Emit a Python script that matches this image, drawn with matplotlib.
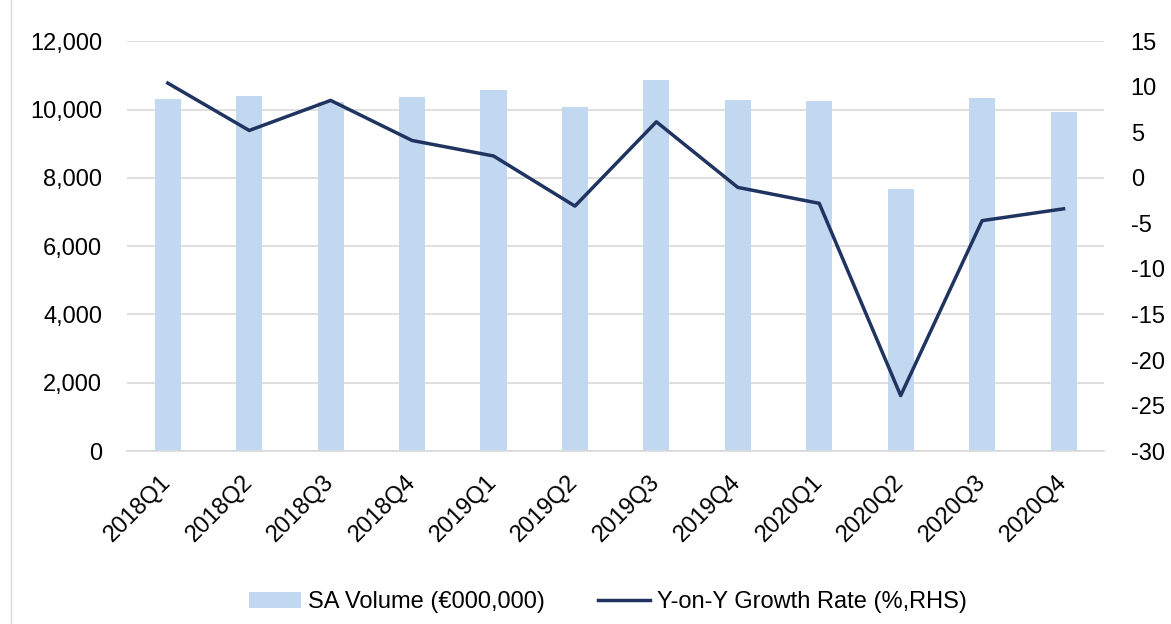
import matplotlib
matplotlib.use('Agg')
import matplotlib.pyplot as plt
import matplotlib.transforms as mtransforms
from matplotlib.patches import Rectangle

quarters = ['2018Q1', '2018Q2', '2018Q3', '2018Q4', '2019Q1', '2019Q2',
            '2019Q3', '2019Q4', '2020Q1', '2020Q2', '2020Q3', '2020Q4']
sa_volume = [10300, 10400, 10220, 10380, 10565, 10070,
             10850, 10270, 10260, 7670, 10340, 9930]
yoy_growth = [10.4, 5.2, 8.5, 4.1, 2.4, -3.1,
              6.15, -1.05, -2.8, -23.9, -4.7, -3.4]

plt.rcParams['font.family'] = ['Liberation Sans', 'DejaVu Sans']
plt.rcParams['axes.unicode_minus'] = False

fig = plt.figure(figsize=(11.71, 6.24), dpi=100)
ax = fig.add_axes([0.1085, 0.277, 0.8345, 0.657])
ax2 = ax.twinx()

x = range(len(quarters))
ax.bar(x, sa_volume, width=0.32, color='#C2D8F0', zorder=2,
       label='SA Volume (€000,000)')
ax2.plot(x, yoy_growth, color='#1F3460', linewidth=2.5, zorder=3,
         label='Y-on-Y Growth Rate (%,RHS)')

ax.set_xlim(-0.5, len(quarters) - 0.5)
ax.set_ylim(0, 12000)
ax.set_yticks(range(0, 12001, 2000))
ax.set_yticklabels([f'{v:,}' for v in range(0, 12001, 2000)])
ax2.set_ylim(-30, 15)
ax2.set_yticks(range(-30, 16, 5))

ax.set_xticks(list(x))
ax.set_xticklabels(quarters, rotation=45, ha='right', va='center',
                   rotation_mode='anchor')
# shift the rotated labels a little to the right, like the original
shift = mtransforms.ScaledTranslation(11 / 100, 0, fig.dpi_scale_trans)
for lbl in ax.get_xticklabels():
    lbl.set_transform(lbl.get_transform() + shift)

ax.grid(axis='y', color='#D9D9D9', linewidth=1.2, zorder=0)
ax.set_axisbelow(True)
for a in (ax, ax2):
    for s in ('top', 'left', 'right'):
        a.spines[s].set_visible(False)
    a.tick_params(length=0, labelsize=17, colors='#000000')
ax.spines['bottom'].set_color('#D9D9D9')
ax.spines['bottom'].set_linewidth(1.2)
ax2.spines['bottom'].set_visible(False)
ax.tick_params(axis='y', pad=18)
ax2.tick_params(axis='y', pad=19)
ax.tick_params(axis='x', pad=20)

h1, l1 = ax.get_legend_handles_labels()
h2, l2 = ax2.get_legend_handles_labels()
fig.legend(h1 + h2, l1 + l2, loc='center', bbox_to_anchor=(0.519, 0.035),
           ncol=2, frameon=False, fontsize=17, handlelength=2.2,
           columnspacing=2.25, handletextpad=0.3, handleheight=0.7)

fig.patches.append(Rectangle((0.009, -0.01), 0.995, 1.02, transform=fig.transFigure,
                             fill=False, edgecolor='#D9D9D9', linewidth=1))

fig.savefig('out.png', dpi=100)
